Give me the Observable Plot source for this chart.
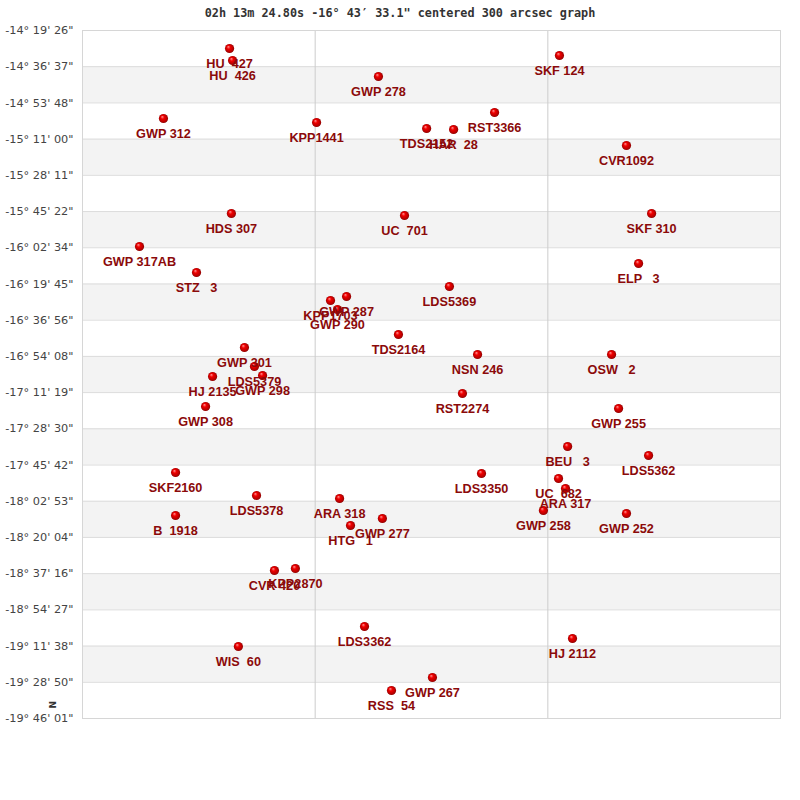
<!DOCTYPE html>
<html>
<head>
<meta charset="utf-8">
<script src="https://cdn.jsdelivr.net/npm/d3@7"></script>
<script src="https://cdn.jsdelivr.net/npm/@observablehq/plot@0.6"></script>
<style>
  body { margin: 0; background: #fff; }
  #title { width: 800px; height: 20px; padding-top: 3px; line-height: 20px; text-align: center;
    font-family: "DejaVu Sans Mono", monospace; font-weight: bold; font-size: 11.8px; color: #333; }
  svg text { white-space: pre; }
</style>
</head>
<body>
<div id="title">02h 13m 24.80s -16° 43′ 33.1" centered 300 arcsec graph</div>
<div id="chart"></div>
<script>
// Star names, RA offset (arcsec across the 300" field), declination (decimal degrees)
const names = ["HU  427","HU  426","SKF 124","GWP 278","GWP 312","KPP1441","RST3366","TDS2152","HAR  28","CVR1092",
  "HDS 307","UC  701","SKF 310","GWP 317AB","ELP   3","STZ   3","LDS5369","GWP 287","KPP1703","GWP 290",
  "TDS2164","GWP 301","NSN 246","OSW   2","LDS5379","GWP 298","HJ 2135","RST2274","GWP 308","GWP 255",
  "BEU   3","LDS5362","SKF2160","LDS3350","UC  682","ARA 317","LDS5378","ARA 318","GWP 258","GWP 252",
  "B  1918","GWP 277","HTG   1","CVR 420","KPP2870","LDS3362","HJ 2112","WIS  60","GWP 267","RSS  54"];
const raOffset = [63.2,64.5,205.0,127.2,34.8,100.6,177.1,147.9,159.5,233.8,
  64.0,138.4,244.6,24.5,239.0,49.0,157.7,113.5,106.6,109.6,
  135.8,69.6,169.8,227.4,73.9,77.4,55.9,163.3,52.9,230.4,
  208.5,243.3,40.0,171.5,204.6,207.6,74.8,110.5,198.1,233.8,
  40.0,128.9,115.2,82.5,91.5,121.2,210.6,67.0,150.4,132.8];
const decDeg = [-14.4663,-14.5612,-14.5217,-14.6878,-15.0201,-15.0517,-14.9726,-15.0992,-15.1071,-15.2337,
  -15.7717,-15.7875,-15.7717,-16.0327,-16.1673,-16.2385,-16.3492,-16.4283,-16.4600,-16.5312,
  -16.7290,-16.8318,-16.8872,-16.8872,-16.9821,-17.0533,-17.0612,-17.1957,-17.2986,-17.3144,
  -17.6150,-17.6862,-17.8207,-17.8286,-17.8682,-17.9473,-18.0027,-18.0264,-18.1214,-18.1451,
  -18.1609,-18.1847,-18.2400,-18.5960,-18.5802,-19.0391,-19.1340,-19.1973,-19.4426,-19.5454];

const yTickLabels = ['-14° 19\' 26"','-14° 36\' 37"','-14° 53\' 48"','-15° 11\' 00"','-15° 28\' 11"',
  '-15° 45\' 22"','-16° 02\' 34"','-16° 19\' 45"','-16° 36\' 56"','-16° 54\' 08"','-17° 11\' 19"',
  '-17° 28\' 30"','-17° 45\' 42"','-18° 02\' 53"','-18° 20\' 04"','-18° 37\' 16"','-18° 54\' 27"',
  '-19° 11\' 38"','-19° 28\' 50"','-19° 46\' 01"'];
const xGrid = [100, 200];
const xDomain = [0, 300];

const parseDms = s => {
  const m = s.match(/-?(\d+)°\s*(\d+)'\s*(\d+)"/);
  return -(+m[1] + +m[2] / 60 + +m[3] / 3600);
};
const tickValues = yTickLabels.map(parseDms);
const bands = [];
for (let i = 1; i < tickValues.length - 1; i += 2) bands.push({y1: tickValues[i], y2: tickValues[i + 1]});
const stars = names.map((n, i) => ({name: n, x: raOffset[i], y: decDeg[i]}));

const defs = () => {
  const d = d3.create("svg:defs");
  const g = d.append("radialGradient").attr("id", "ball").attr("cx", "50%").attr("cy", "50%")
    .attr("r", "55%").attr("fx", "35%").attr("fy", "30%");
  g.append("stop").attr("offset", "0%").attr("stop-color", "#ff9a9a");
  g.append("stop").attr("offset", "35%").attr("stop-color", "#f00000");
  g.append("stop").attr("offset", "80%").attr("stop-color", "#b00000");
  g.append("stop").attr("offset", "100%").attr("stop-color", "#700000");
  return d.node();
};

const chart = Plot.plot({
  width: 800,
  height: 777,
  marginTop: 7,
  marginBottom: 82,
  marginLeft: 82,
  marginRight: 20,
  x: {domain: xDomain, axis: null},
  y: {domain: [tickValues[tickValues.length - 1], tickValues[0]], axis: null},
  style: {background: "#fff"},
  marks: [
    defs,
    Plot.rect(bands, {y1: "y1", y2: "y2", fill: "#f3f3f3"}),
    Plot.ruleY(tickValues, {stroke: "#dcdcdc", strokeWidth: 1}),
    Plot.ruleX(xGrid, {stroke: "#cccccc", strokeWidth: 1}),
    Plot.frame({stroke: "#d6d6d6", strokeWidth: 1}),
    Plot.axisY({ticks: tickValues, tickFormat: (d, i) => yTickLabels[i], tickSize: 0, tickPadding: 9,
      fontSize: 11.3, fill: "#444", fontFamily: "DejaVu Sans"}),
    Plot.text(["N"], {frameAnchor: "bottom-left", dx: -27, dy: -10, rotate: -90, fontSize: 9,
      fontWeight: "bold", fill: "#333", fontFamily: "DejaVu Sans"}),
    Plot.dot(stars, {x: "x", y: "y", r: 4.6, fill: "url(#ball)", stroke: "none"}),
    Plot.text(stars, {x: "x", y: "y", text: "name", dy: 15.5, fill: "#8b0a0a", fontWeight: "bold",
      fontSize: 12.7, fontFamily: "Liberation Sans, Arial, sans-serif"})
  ]
});
document.getElementById("chart").appendChild(chart);
</script>
</body>
</html>
